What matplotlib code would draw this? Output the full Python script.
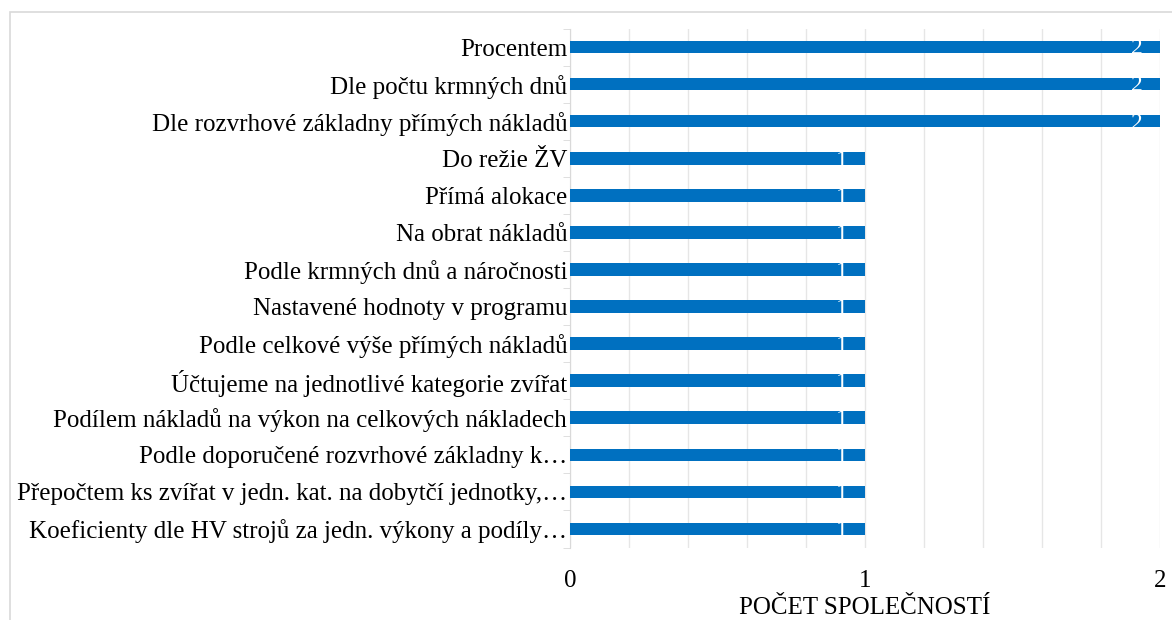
import numpy as np
import matplotlib.pyplot as plt
from matplotlib.patches import Rectangle

categories = [
    'Procentem',
    'Dle počtu krmných dnů',
    'Dle rozvrhové základny přímých nákladů',
    'Do režie ŽV',
    'Přímá alokace',
    'Na obrat nákladů',
    'Podle krmných dnů a náročnosti',
    'Nastavené hodnoty v programu',
    'Podle celkové výše přímých nákladů',
    'Účtujeme na jednotlivé kategorie zvířat',
    'Podílem nákladů na výkon na celkových nákladech',
    'Podle doporučené rozvrhové základny k…',
    'Přepočtem ks zvířat v jedn. kat. na dobytčí jednotky,…',
    'Koeficienty dle HV strojů za jedn. výkony a podíly…',
]
values = [2, 2, 2, 1, 1, 1, 1, 1, 1, 1, 1, 1, 1, 1]

plt.rcParams['font.family'] = ['Liberation Serif', 'DejaVu Serif']

fig = plt.figure(figsize=(11.72, 6.2), dpi=100)
ax = fig.add_axes([570 / 1172, 1 - 547.5 / 620, 590 / 1172, 519 / 620])

# outer chart frame
fig.patches.append(Rectangle((10 / 1172, -0.1), 1.2, 1 - 12 / 620 + 0.1,
                             transform=fig.transFigure, fill=False,
                             edgecolor='#D9D9D9', linewidth=1.2))

y = np.arange(len(categories))
ax.barh(y, values, height=0.34, color='#0070C0', zorder=3)
for yi, v in zip(y, values):
    ax.text(v - 0.08, yi + 0.05, str(v), color='white', fontsize=17,
            ha='center', va='center', zorder=4)

ax.set_ylim(len(categories) - 0.5, -0.5)
ax.set_xlim(0, 2)
ax.set_yticks(y)
ax.set_yticklabels(categories, fontsize=18)
ax.set_yticks(np.arange(-0.5, len(categories)), minor=True)
ax.tick_params(axis='y', which='major', length=0, pad=2)
ax.tick_params(axis='y', which='minor', length=5, color='#D9D9D9')

ax.set_xticks([0, 1, 2])
ax.set_xticklabels(['0', '1', '2'], fontsize=18)
ax.set_xticks(np.arange(0, 2.01, 0.2), minor=True)
ax.tick_params(axis='x', which='both', length=0, pad=16)
ax.grid(axis='x', which='both', color='#E6E6E6', linewidth=1, zorder=0)

for s in ['top', 'right', 'bottom']:
    ax.spines[s].set_visible(False)
ax.spines['left'].set_color('#D9D9D9')

ax.set_xlabel('POČET SPOLEČNOSTÍ', fontsize=18, labelpad=4)

fig.savefig('out.png', dpi=100)
